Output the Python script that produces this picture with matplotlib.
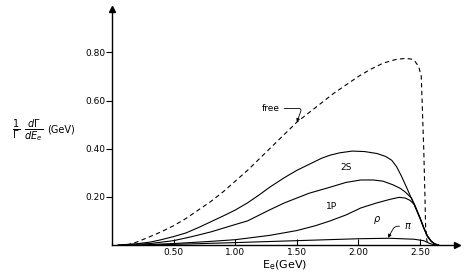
import numpy as np
import matplotlib.pyplot as plt

# electron energy spectrum (E_e in GeV)
free_x = [0.12, 0.20, 0.31, 0.40, 0.50, 0.60, 0.70, 0.80, 0.90, 1.00, 1.10, 1.20, 1.28,
          1.40, 1.50, 1.60, 1.70, 1.80, 1.90, 2.00, 2.10, 2.20, 2.30, 2.38, 2.43, 2.46,
          2.49, 2.51, 2.52, 2.53, 2.54, 2.545, 2.555, 2.565]
free_y = [0.0, 0.012, 0.035, 0.055, 0.08, 0.11, 0.145, 0.18, 0.22, 0.265, 0.31, 0.36, 0.40,
          0.46, 0.51, 0.55, 0.59, 0.63, 0.665, 0.70, 0.73, 0.755, 0.77, 0.775, 0.772, 0.762,
          0.74, 0.70, 0.55, 0.40, 0.20, 0.08, 0.02, 0.0]

s2_x = [0.05, 0.20, 0.31, 0.40, 0.50, 0.60, 0.70, 0.80, 0.90, 1.00, 1.10, 1.20, 1.28, 1.40,
        1.50, 1.60, 1.70, 1.77, 1.85, 1.95, 2.05, 2.15, 2.22, 2.27, 2.31, 2.35, 2.39, 2.42,
        2.46, 2.50, 2.53, 2.56, 2.59, 2.62, 2.65]
s2_y = [0.0, 0.005, 0.012, 0.022, 0.035, 0.05, 0.072, 0.096, 0.12, 0.145, 0.175, 0.21, 0.24,
        0.28, 0.31, 0.335, 0.36, 0.373, 0.383, 0.39, 0.388, 0.38, 0.368, 0.352, 0.325, 0.285,
        0.24, 0.205, 0.16, 0.11, 0.07, 0.035, 0.015, 0.003, 0.0]

p1_x = [0.05, 0.31, 0.50, 0.65, 0.80, 1.00, 1.10, 1.28, 1.40, 1.50, 1.60, 1.77, 1.90, 2.02,
        2.12, 2.20, 2.28, 2.34, 2.38, 2.43, 2.46, 2.50, 2.53, 2.56, 2.59, 2.62, 2.65]
p1_y = [0.0, 0.006, 0.018, 0.035, 0.054, 0.085, 0.10, 0.146, 0.175, 0.195, 0.215, 0.24, 0.26,
        0.27, 0.27, 0.265, 0.25, 0.235, 0.22, 0.195, 0.163, 0.113, 0.072, 0.037, 0.016, 0.004, 0.0]

rho_x = [0.20, 0.50, 0.80, 1.00, 1.28, 1.50, 1.65, 1.77, 1.90, 2.02, 2.15, 2.26, 2.33, 2.38,
         2.42, 2.45, 2.48, 2.50, 2.53, 2.56, 2.59, 2.62, 2.65]
rho_y = [0.0, 0.006, 0.015, 0.022, 0.04, 0.06, 0.08, 0.10, 0.125, 0.154, 0.175, 0.19, 0.198,
         0.195, 0.185, 0.17, 0.135, 0.112, 0.073, 0.038, 0.017, 0.005, 0.0]

pi_x = [0.30, 0.60, 1.00, 1.50, 2.00, 2.25, 2.45, 2.53, 2.58, 2.62]
pi_y = [0.0, 0.004, 0.010, 0.018, 0.026, 0.028, 0.024, 0.018, 0.006, 0.0]

x_ticks = [0.5, 1.0, 1.5, 2.0, 2.5]
x_tick_labels = ['0.50', '1.00', '1.50', '2.00', '2.50']
y_ticks = [0.2, 0.4, 0.6, 0.8]
y_tick_labels = ['0.20', '0.40', '0.60', '0.80']

fig = plt.figure(figsize=(4.67, 2.77), dpi=100)
ax = fig.add_axes([112 / 467, 32 / 277, 345 / 467, 236 / 277])

ax.plot(free_x, free_y, color='black', lw=0.8, dashes=(4, 3))
for xs, ys in [(s2_x, s2_y), (p1_x, p1_y), (rho_x, rho_y), (pi_x, pi_y)]:
    ax.plot(xs, ys, color='black', lw=0.8)

ax.set_xlim(0, 2.8)
ax.set_ylim(0, 0.98)
for side in ['top', 'right']:
    ax.spines[side].set_visible(False)
ax.spines['left'].set_linewidth(1.0)
ax.spines['bottom'].set_linewidth(1.0)

# arrowheads on axes
ax.plot(0, 0.98, marker='^', color='black', markersize=4, clip_on=False)
ax.plot(2.8, 0, marker='>', color='black', markersize=4, clip_on=False)

ax.set_xticks(x_ticks)
ax.set_xticklabels(x_tick_labels, fontsize=6.5)
ax.set_yticks(y_ticks)
ax.set_yticklabels(y_tick_labels, fontsize=6.5)
ax.tick_params(axis='x', direction='in', length=4, width=0.8, pad=2)
ax.tick_params(axis='y', direction='out', length=4, width=0.8, pad=1)

# curve labels
ax.text(1.90, 0.32, '2S', fontsize=6.5, ha='center', va='center')
ax.text(1.78, 0.16, '1P', fontsize=6.5, ha='center', va='center')
ax.text(2.15, 0.105, r'$\rho$', fontsize=7, ha='center', va='center')
ax.annotate('free', xy=(1.50, 0.51), xytext=(1.29, 0.567), fontsize=6.5,
            ha='center', va='center',
            arrowprops=dict(arrowstyle='-|>', lw=0.6, color='black', mutation_scale=5,
                            connectionstyle='angle,angleA=0,angleB=70,rad=3',
                            shrinkA=1, shrinkB=0))
ax.annotate(r'$\pi$', xy=(2.24, 0.03), xytext=(2.40, 0.078), fontsize=7,
            ha='center', va='center',
            arrowprops=dict(arrowstyle='-|>', lw=0.6, color='black', mutation_scale=5,
                            connectionstyle='angle,angleA=180,angleB=60,rad=3',
                            shrinkA=1, shrinkB=0))

fig.text(285 / 467, 1 - 265 / 277, r'E$_{\rm e}$(GeV)', fontsize=8, ha='center', va='center')
fig.text(12 / 467, 1 - 131 / 277, r'$\frac{1}{\Gamma}\ \frac{d\Gamma}{dE_{e}}$',
         fontsize=10, ha='left', va='center')
fig.text(47 / 467, 1 - 129 / 277, '(GeV)', fontsize=7, ha='left', va='center')

fig.savefig('out.png', dpi=100)
